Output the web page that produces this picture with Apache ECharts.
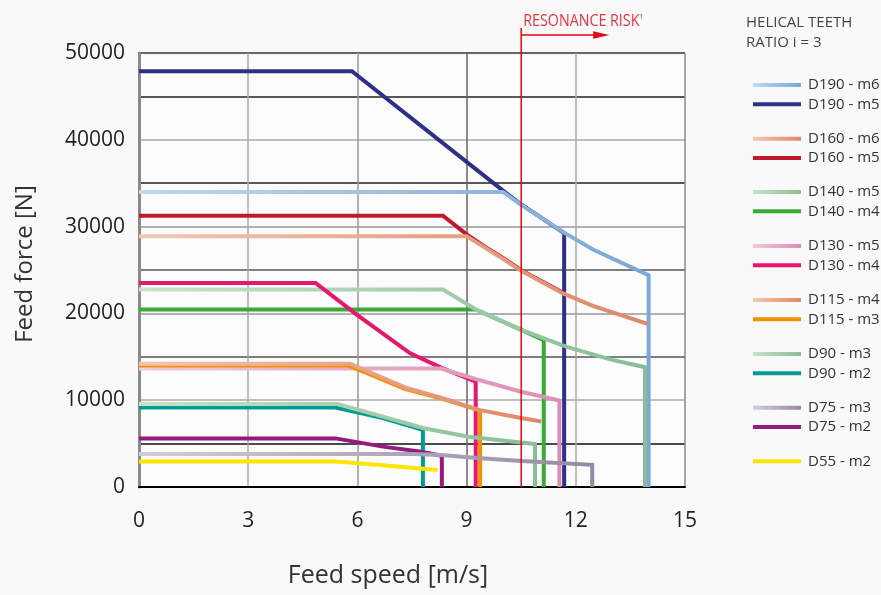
<!DOCTYPE html>
<html>
<head>
<meta charset="utf-8">
<script src="https://cdn.jsdelivr.net/npm/echarts@6/dist/echarts.min.js"></script>
<style>
html,body{margin:0;padding:0;background:#f9f9f9;}
#chart{width:881px;height:595px;}
</style>
</head>
<body>
<div id="chart"></div>
<script>
// ---- Data ----
const xTickLabels = [0, 3, 6, 9, 12, 15];
const yTickLabels = [0, 10000, 20000, 30000, 40000, 50000];
const resonanceSpeed = 10.5;

const D190_m6 = [[0,34000],[10.0,34000],[10.5,32500],[11.7,29250],[12.5,27300],[14.0,24400],[14.0,0]];
const D190_m5 = [[0,47900],[5.85,47900],[10.0,34150],[10.5,32550],[11.68,29250],[11.68,0]];
const D160_m6 = [[0,28900],[9.0,28900],[9.5,27600],[10.0,26300],[10.5,24900],[11.65,22300],[12.45,20900],[13.97,18800]];
const D160_m5 = [[0,31250],[8.35,31250],[9.02,29050],[9.5,27680],[10.0,26380],[10.5,24980],[11.65,22380]];
const D140_m5 = [[0,22750],[8.35,22750],[9.28,20400],[10.5,18100],[11.75,16150],[13.0,14650],[13.9,13800],[13.9,0]];
const D140_m4 = [[0,20450],[9.25,20450],[10.5,18100],[11.12,16900],[11.12,0]];
const D130_m5 = [[0,13650],[8.3,13650],[9.28,12400],[10.47,11000],[11.55,9950],[11.55,0]];
const D130_m4 = [[0,23500],[4.85,23500],[6.0,19800],[7.45,15400],[8.3,13750],[9.25,12150],[9.25,0]];
const D115_m4 = [[0,14200],[5.8,14200],[7.35,11400],[8.36,10200],[9.37,8850],[10.5,7950],[11.05,7550]];
const D115_m3 = [[0,14000],[5.75,14000],[7.3,11300],[8.36,10120],[9.37,8800],[9.37,0]];
const D90_m3 = [[0,9550],[5.45,9550],[6.7,8100],[7.8,6800],[9.05,5800],[10.88,4950],[10.88,0]];
const D90_m2 = [[0,9150],[5.4,9150],[6.7,7950],[7.8,6600],[7.8,0]];
const D75_m3 = [[0,3800],[7.5,3800],[8.3,3700],[9.3,3350],[10.5,3000],[12.45,2550],[12.45,0]];
const D75_m2 = [[0,5600],[5.4,5600],[6.7,4650],[7.7,4100],[8.32,3600],[8.32,0]];
const D55_m2 = [[0,2950],[5.4,2950],[6.7,2500],[8.2,1950]];

// ---- Styles ----
function grad(a, b) {
  return new echarts.graphic.LinearGradient(0, 0, 1, 0, [{offset:0,color:a},{offset:1,color:b}]);
}
const C = {
  blueL: grad('#c2d7ef', '#78a8d5'),
  navy: '#2e3087',
  salmon: grad('#f3c8b2', '#de8769'),
  red: '#c0172b',
  greenL: grad('#c8e2cc', '#88bd95'),
  green: '#3aaa35',
  pinkL: grad('#f2c8dc', '#db8eb5'),
  pink: '#e6176d',
  orange: '#f39200',
  teal: '#009b93',
  grayL: grad('#d3ccda', '#968aa2'),
  purple: '#951b81',
  yellow: '#ffe500'
};

// draw order: later on top
const seriesDefs = [
  ['D190 - m5', D190_m5, C.navy],
  ['D190 - m6', D190_m6, C.blueL],
  ['D160 - m5', D160_m5, C.red],
  ['D160 - m6', D160_m6, C.salmon],
  ['D140 - m4', D140_m4, C.green],
  ['D140 - m5', D140_m5, C.greenL],
  ['D130 - m4', D130_m4, C.pink],
  ['D130 - m5', D130_m5, C.pinkL],
  ['D115 - m3', D115_m3, C.orange],
  ['D115 - m4', D115_m4, C.salmon],
  ['D90 - m2', D90_m2, C.teal],
  ['D90 - m3', D90_m3, C.greenL],
  ['D75 - m2', D75_m2, C.purple],
  ['D75 - m3', D75_m3, C.grayL],
  ['D55 - m2', D55_m2, C.yellow]
];

const legendGroups = [
  ['D190 - m6','D190 - m5'],
  ['D160 - m6','D160 - m5'],
  ['D140 - m5','D140 - m4'],
  ['D130 - m5','D130 - m4'],
  ['D115 - m4','D115 - m3'],
  ['D90 - m3','D90 - m2'],
  ['D75 - m3','D75 - m2'],
  ['D55 - m2']
];
const legendTops = [77, 130.7, 184, 238, 292, 346, 399.7, 453.3];

const FONT = 'Open Sans';

const series = seriesDefs.map(([name, data, color]) => ({
  name, type: 'line', data,
  symbol: 'none', showSymbol: false,
  lineStyle: { width: 4, color: color, join: 'miter' },
  itemStyle: { color: color },
  emphasis: { disabled: true },
  silent: true,
  animation: false
}));

const legends = legendGroups.map((g, i) => ({
  data: g,
  orient: 'vertical',
  left: 753,
  top: legendTops[i],
  padding: 0,
  icon: 'rect',
  itemWidth: 48,
  itemHeight: 4,
  itemGap: 3.3,
  selectedMode: false,
  textStyle: { fontFamily: FONT, fontSize: 15, lineHeight: 16, color: '#333', padding: [0,0,0,2] }
}));

const chart = echarts.init(document.getElementById('chart'), null, { renderer: 'canvas' });

chart.setOption({
  backgroundColor: '#f9f9f9',
  animation: false,
  textStyle: { fontFamily: FONT },
  title: {
    text: 'HELICAL TEETH\nRATIO i = 3',
    left: 746, top: 12,
    padding: 0,
    textStyle: { fontFamily: FONT, fontSize: 15, fontWeight: 'normal', color: '#444', lineHeight: 20.5 }
  },
  legend: legends,
  grid: { left: 139, right: 196, top: 53, bottom: 108, show: true, backgroundColor: '#fcfcfc', borderWidth: 0 },
  xAxis: {
    type: 'value', min: 0, max: 15, interval: 3,
    name: 'Feed speed [m/s]', nameLocation: 'middle', nameGap: 76,
    nameTextStyle: { fontFamily: FONT, fontSize: 25, color: '#333', padding: [0, 48, 0, 0] },
    axisLine: { show: true, onZero: false, lineStyle: { color: '#000', width: 2 } },
    axisTick: { show: false },
    axisLabel: { fontFamily: FONT, fontSize: 21, color: '#222', margin: 24,
      formatter: v => xTickLabels.includes(v) ? String(v) : '' },
    splitLine: { show: true, lineStyle: { width: 1.5, color: ['#000', '#aaa', '#999', '#666', '#aaa', '#888'] } }
  },
  yAxis: [{
    type: 'value', min: 0, max: 50000, interval: 5000,
    name: 'Feed force [N]', nameLocation: 'middle', nameGap: 102, nameRotate: 90,
    nameTextStyle: { fontFamily: FONT, fontSize: 24, color: '#333', padding: [0, 0, 0, 12] },
    axisLine: { show: true, onZero: false, lineStyle: { color: '#000', width: 2 } },
    axisTick: { show: false },
    axisLabel: { fontFamily: FONT, fontSize: 21, color: '#222', margin: 14,
      formatter: v => yTickLabels.includes(v) ? String(v) : '' },
    splitLine: { show: true, lineStyle: { width: 1.5,
      color: ['#000', '#111', '#aaa', '#555', '#999', '#555', '#999', '#222', '#aaa', '#222', '#333'] } }
  }, {
    type: 'value', min: 0, max: 50000, interval: 5000, position: 'right',
    axisLine: { show: true, lineStyle: { color: '#8a8a8a', width: 3 } },
    axisTick: { show: false }, axisLabel: { show: false }, splitLine: { show: false }
  }],
  series
});

// Resonance annotation, positioned through the axis scale
const px = chart.convertToPixel({ xAxisIndex: 0 }, resonanceSpeed);
const py0 = chart.convertToPixel({ yAxisIndex: 0 }, 0);
const RED = '#e30613';
chart.setOption({
  graphic: [
    { type: 'line', shape: { x1: px, y1: 28, x2: px, y2: py0 }, style: { stroke: RED, lineWidth: 1.5 }, z: 100, silent: true },
    { type: 'line', shape: { x1: px, y1: 35, x2: px + 76, y2: 35 }, style: { stroke: RED, lineWidth: 1.5 }, z: 100, silent: true },
    { type: 'polygon', shape: { points: [[px + 72, 31.2], [px + 88, 35], [px + 72, 38.8]] }, style: { fill: RED }, z: 100, silent: true },
    { type: 'text', x: px + 2, y: 21, scaleX: 0.84, z: 100, silent: true,
      style: { text: '{a|RESONANCE RISK}{b|1}', verticalAlign: 'middle', align: 'left',
        rich: { a: { fontFamily: FONT, fontSize: 17, fill: '#e8333f' }, b: { fontFamily: FONT, fontSize: 8, fill: '#e8333f', verticalAlign: 'top', padding: [0,0,9,0] } } } }
  ]
});
</script>
</body>
</html>
